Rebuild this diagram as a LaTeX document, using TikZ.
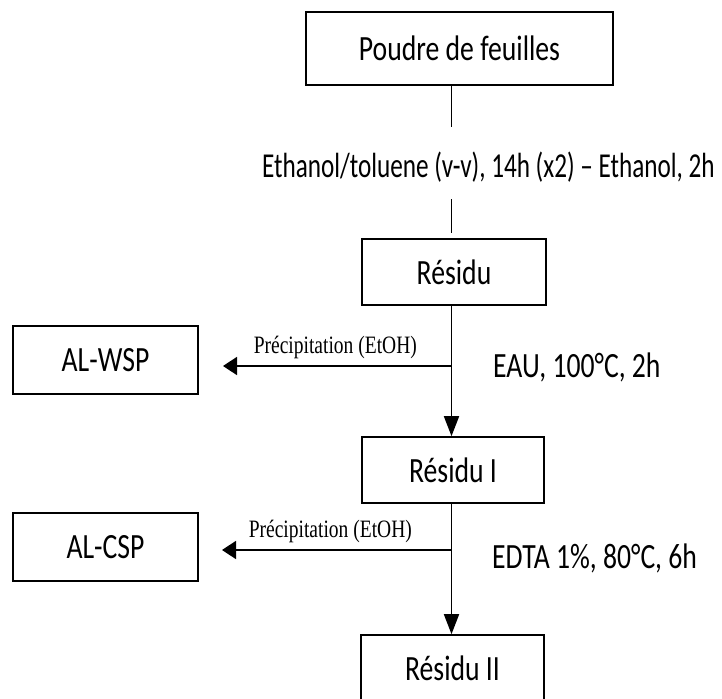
\documentclass[tikz,border=0pt]{standalone}
\usepackage{fontspec}
\setmainfont{Carlito}[FakeStretch=0.78]
\newfontfamily\narrowfont{Carlito}[FakeStretch=0.72]
\newfontfamily\labelserif{Liberation Serif}[FakeStretch=0.78]
\usetikzlibrary{arrows.meta}

\tikzset{
  stepbox/.style={draw, line width=1.6pt, inner sep=0pt, anchor=center,
    font=\fontsize{35.5}{40}\selectfont},
  plaintext/.style={inner sep=0pt, font=\fontsize{35.5}{40}\selectfont},
  smalltext/.style={inner sep=0pt, font=\labelserif\fontsize{25}{28}\selectfont},
  flow/.style={line width=1.7pt},
  downarrow/.style={flow, -{Triangle[length=20pt,width=15pt]}},
  sidearrow/.style={flow, -{Triangle[length=14pt,width=18pt]}}
}

\begin{document}
\begin{tikzpicture}[x=1pt, y=-1pt]
  \useasboundingbox (0,0) rectangle (722,698);

  % process boxes
  \node[stepbox, minimum width=307pt, minimum height=73pt] (poudre) at (459.5,48.5) {Poudre de feuilles};
  \node[stepbox, minimum width=184pt, minimum height=66pt] (res) at (454,272) {Résidu};
  \node[stepbox, minimum width=182pt, minimum height=66pt] (resI) at (453,470) {Résidu I};
  \node[stepbox, minimum width=183pt, minimum height=66pt] (resII) at (452.5,668) {Résidu II};
  \node[stepbox, minimum width=185pt, minimum height=68pt] (wsp) at (105.5,360) {AL-WSP};
  \node[stepbox, minimum width=185pt, minimum height=68pt] (csp) at (105.5,547) {AL-CSP};

  % treatment conditions
  \node[plaintext, anchor=base east, font=\narrowfont\fontsize{35}{40}\selectfont] (solv) at (715,177) {Ethanol/toluene (v-v), 14h (x2) – Ethanol, 2h};
  \node[plaintext, anchor=base west] (eau) at (493,377) {EAU, 100°C, 2h};
  \node[plaintext, anchor=base west] (edta) at (492,568) {EDTA 1\%, 80°C, 6h};

  % main vertical line
  \coordinate (spine) at (451.5,0);
  \coordinate (s1) at (451.5,127);
  \coordinate (s2) at (451.5,199);
  \coordinate (s3) at (451.5,233);
  \draw[flow] (poudre.south -| spine) -- (s1);
  \draw[flow] (s2) -- (s3);
  \draw[downarrow] (res.south -| spine) -- (resI.north -| spine);
  \draw[downarrow] (resI.south -| spine) -- (resII.north -| spine);

  % precipitation branches
  \coordinate (b1) at (451.5,366);
  \coordinate (t1) at (223,366);
  \coordinate (b2) at (451.5,550);
  \coordinate (t2) at (222,550);
  \draw[sidearrow] (b1) -- (t1);
  \draw[sidearrow] (b2) -- (t2);
  \node[smalltext, anchor=base east] (p1) at (417,353) {Précipitation (EtOH)};
  \node[smalltext, anchor=base east] (p2) at (412,537) {Précipitation (EtOH)};
\end{tikzpicture}
\end{document}
